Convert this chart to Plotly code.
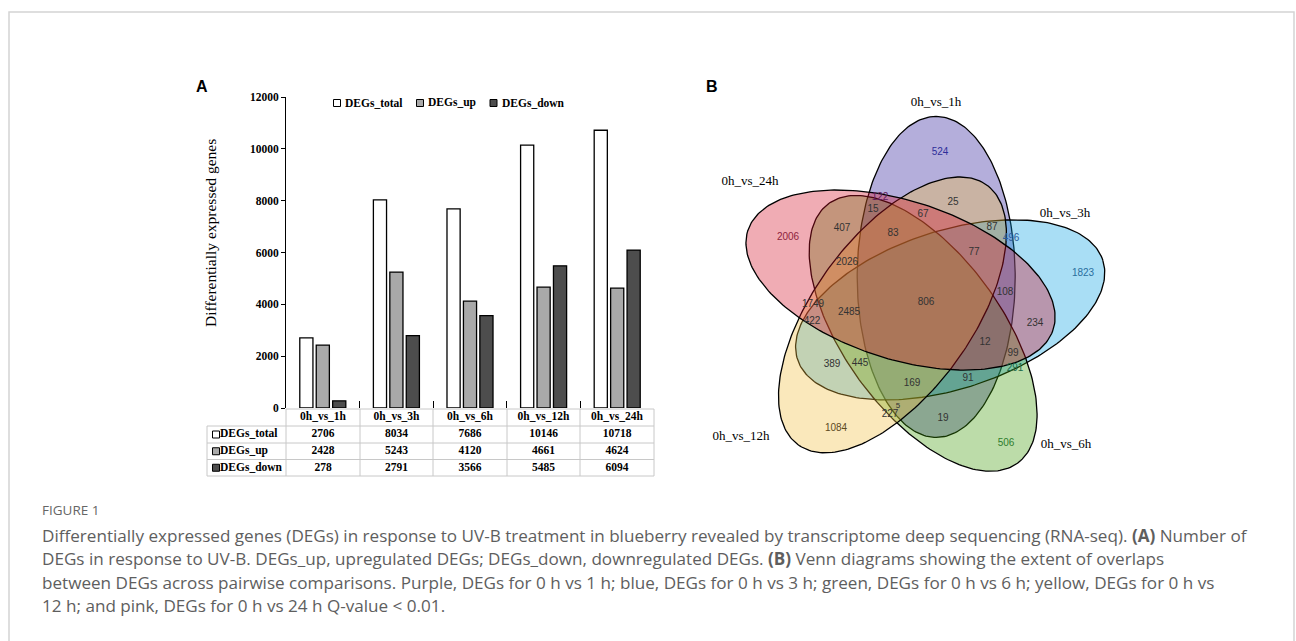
import numpy as np
import plotly.graph_objects as go

# ---------------- data ----------------
comparisons = ["0h_vs_1h", "0h_vs_3h", "0h_vs_6h", "0h_vs_12h", "0h_vs_24h"]
series_names = ["DEGs_total", "DEGs_up", "DEGs_down"]
degs_total = [2706, 8034, 7686, 10146, 10718]
degs_up = [2428, 5243, 4120, 4661, 4624]
degs_down = [278, 2791, 3566, 5485, 6094]
y_ticks = [0, 2000, 4000, 6000, 8000, 10000, 12000]

venn_sets = ["0h_vs_1h", "0h_vs_3h", "0h_vs_6h", "0h_vs_12h", "0h_vs_24h"]
venn_counts = [524, 1823, 506, 1084, 2006, 25, 122, 15, 67, 407, 83, 87, 496,
               77, 2026, 108, 806, 1749, 2485, 422, 234, 12, 99, 291, 389,
               445, 91, 169, 5, 227, 19]

# ---------------- layout helpers (page pixels -> paper) ----------------
OX, OY, W, H = 0, 0, 1296, 641
def px(x):
    return (x - OX) / W
def py(y):
    return 1 - (y - OY) / H

SERIF = "Liberation Serif"
SANS = "Liberation Sans"

bar_fill = ["#ffffff", "#a9a9a9", "#4d4d4d"]

fig = go.Figure()

# ---------------- Panel A: bars ----------------
for name, vals, col in zip(series_names, [degs_total, degs_up, degs_down], bar_fill):
    fig.add_trace(go.Bar(x=comparisons, y=vals, name=name,
                         marker=dict(color=col, line=dict(color="black", width=1.3)),
                         showlegend=False, xaxis="x", yaxis="y"))

shapes = []
annotations = []

# ---- data table under the bars (pixel axes x2/y2) ----
col_edges = [207, 286, 360, 433, 507, 580, 654]
row_edges = [409, 426, 443, 459.5, 476]
grid = "#c8c8c8"
shapes.append(dict(type="line", xref="x2", yref="y2", x0=col_edges[1], x1=col_edges[-1],
                   y0=row_edges[0], y1=row_edges[0], line=dict(color=grid, width=1)))
for yb in row_edges[1:]:
    shapes.append(dict(type="line", xref="x2", yref="y2", x0=col_edges[0], x1=col_edges[-1],
                       y0=yb, y1=yb, line=dict(color=grid, width=1)))
shapes.append(dict(type="line", xref="x2", yref="y2", x0=col_edges[0], x1=col_edges[0],
                   y0=row_edges[1], y1=row_edges[-1], line=dict(color=grid, width=1)))
for xb in col_edges[1:]:
    shapes.append(dict(type="line", xref="x2", yref="y2", x0=xb, x1=xb,
                       y0=row_edges[0], y1=row_edges[-1], line=dict(color=grid, width=1)))

col_centers = [(col_edges[i] + col_edges[i + 1]) / 2 for i in range(1, len(col_edges) - 1)]
row_centers = [(row_edges[i] + row_edges[i + 1]) / 2 for i in range(len(row_edges) - 1)]
# header
fig.add_trace(go.Scatter(x=col_centers, y=[row_centers[0]] * len(comparisons), mode="text",
                         text=["<b>%s</b>" % c for c in comparisons],
                         textfont=dict(family=SERIF, size=11.5, color="black"),
                         showlegend=False, hoverinfo="skip", xaxis="x2", yaxis="y2"))
# values
for r, vals in enumerate([degs_total, degs_up, degs_down]):
    fig.add_trace(go.Scatter(x=col_centers, y=[row_centers[r + 1]] * len(vals), mode="text",
                             text=["<b>%d</b>" % v for v in vals],
                             textfont=dict(family=SERIF, size=11.5, color="black"),
                             showlegend=False, hoverinfo="skip", xaxis="x2", yaxis="y2"))
# row labels with key squares
fig.add_trace(go.Scatter(x=[220] * 3, y=row_centers[1:], mode="text",
                         text=["<b>%s</b>" % s for s in series_names], textposition="middle right",
                         textfont=dict(family=SERIF, size=11.5, color="black"),
                         showlegend=False, hoverinfo="skip", xaxis="x2", yaxis="y2"))
for i, col in enumerate(bar_fill):
    yc = row_centers[i + 1]
    shapes.append(dict(type="rect", xref="x2", yref="y2", x0=212.5, x1=219.5, y0=yc - 3.5, y1=yc + 3.5,
                       fillcolor=col, line=dict(color="black", width=1)))

# legend
legend_x = [333.5, 416.5, 490]
for name, col, lx in zip(series_names, bar_fill, legend_x):
    shapes.append(dict(type="rect", xref="x2", yref="y2", x0=lx, x1=lx + 7, y0=99.5, y1=106.5,
                       fillcolor=col, line=dict(color="black", width=1)))
    annotations.append(dict(x=px(lx + 9.5), y=py(103), xref="paper", yref="paper", text="<b>%s</b>" % name,
                            showarrow=False, xanchor="left", yanchor="middle",
                            font=dict(family=SERIF, size=11.5, color="black")))

annotations.append(dict(x=px(211), y=py(233), xref="paper", yref="paper", text="Differentially expressed genes",
                        textangle=-90, showarrow=False, xanchor="center", yanchor="middle",
                        font=dict(family=SERIF, size=15.5, color="black")))
annotations.append(dict(x=px(202), y=py(87), xref="paper", yref="paper", text="<b>A</b>", showarrow=False,
                        xanchor="center", yanchor="middle", font=dict(family=SANS, size=16, color="black")))
annotations.append(dict(x=px(712), y=py(87), xref="paper", yref="paper", text="<b>B</b>", showarrow=False,
                        xanchor="center", yanchor="middle", font=dict(family=SANS, size=16, color="black")))

# ---------------- Panel B: Venn ----------------
C = np.array([920.5, 303.0])
v0 = np.array([15.7, -26.1])
A_ax, B_ax = 160.5, 79.0
set_angles = [0, 72, 144, -144, -72]
set_fill = ["rgba(40,24,152,0.35)", "rgba(10,160,227,0.35)", "rgba(62,155,10,0.35)",
            "rgba(241,189,60,0.35)", "rgba(212,18,40,0.35)"]
t = np.linspace(0, 2 * np.pi, 241)
for name, ang, fc in zip(venn_sets, set_angles, set_fill):
    a = np.deg2rad(ang)
    R = np.array([[np.cos(a), -np.sin(a)], [np.sin(a), np.cos(a)]])
    cen = C + R @ v0
    u = R @ np.array([0.0, -1.0])
    w = R @ np.array([1.0, 0.0])
    xs = cen[0] + A_ax * np.cos(t) * u[0] + B_ax * np.sin(t) * w[0]
    ys = cen[1] + A_ax * np.cos(t) * u[1] + B_ax * np.sin(t) * w[1]
    fig.add_trace(go.Scatter(x=xs, y=ys, mode="lines", fill="toself", fillcolor=fc,
                             line=dict(color="black", width=1.3), name=name, showlegend=False,
                             hoverinfo="skip", xaxis="x2", yaxis="y2"))

count_pos = [(940, 152), (1083, 273), (1006, 443), (836, 428), (788, 237), (953, 202), (880, 197), (873, 209),
             (923, 214), (842, 228), (893, 233), (992, 227), (1011, 238), (974, 252), (847, 262), (1005, 292),
             (926, 302), (813, 304), (849, 312), (812, 321), (1035, 323), (985, 342), (1013, 353), (1015, 368),
             (832, 364), (860, 363), (968, 378), (912, 383), (898, 406), (890, 414), (943, 418)]
count_col = ["#2e2e9a", "#2a6e9e", "#2e7d2e", "#5c4a1e", "#8e1f3c"] + ["#333333"] * 26
count_col[6] = "#5e1a5a"
count_col[12] = "#2a5a9a"
count_col[23] = "#1a6a4a"
count_size = [10] * len(venn_counts)
count_size[28] = 8
fig.add_trace(go.Scatter(x=[p[0] for p in count_pos], y=[p[1] for p in count_pos], mode="text",
                         text=[str(c) for c in venn_counts],
                         textfont=dict(family=SANS, size=count_size, color=count_col),
                         showlegend=False, hoverinfo="skip", xaxis="x2", yaxis="y2"))
label_pos = [(936, 103), (1065, 214), (1066, 445), (741, 437), (750, 182)]
fig.add_trace(go.Scatter(x=[p[0] for p in label_pos], y=[p[1] for p in label_pos], mode="text",
                         text=venn_sets, textfont=dict(family=SERIF, size=13, color="black"),
                         showlegend=False, hoverinfo="skip", xaxis="x2", yaxis="y2"))

# ---------------- caption ----------------
annotations.append(dict(x=px(40), y=py(510), xref="paper", yref="paper", text="FIGURE 1", showarrow=False,
                        xanchor="left", yanchor="middle", font=dict(family="Open Sans", size=13.5, color="#666666")))
caption_lines = [
    "Differentially expressed genes (DEGs) in response to UV-B treatment in blueberry revealed by transcriptome deep sequencing (RNA-seq). <b>(A)</b> Number of",
    "DEGs in response to UV-B. DEGs_up, upregulated DEGs; DEGs_down, downregulated DEGs. <b>(B)</b> Venn diagrams showing the extent of overlaps",
    "between DEGs across pairwise comparisons. Purple, DEGs for 0 h vs 1 h; blue, DEGs for 0 h vs 3 h; green, DEGs for 0 h vs 6 h; yellow, DEGs for 0 h vs",
    "12 h; and pink, DEGs for 0 h vs 24 h Q-value &lt; 0.01.",
]
for i, line in enumerate(caption_lines):
    annotations.append(dict(x=px(40), y=py(535 + 23.5 * i), xref="paper", yref="paper", text=line, showarrow=False,
                            xanchor="left", yanchor="middle", font=dict(family="Open Sans", size=17.1, color="#5e5e5e")))

# frame
shapes.append(dict(type="path", xref="x2", yref="y2",
                   path="M 9 700 L 9 12 L 1294 12 L 1294 700",
                   line=dict(color="#d4d4d4", width=1.5)))

fig.update_layout(
    width=W, height=H, margin=dict(l=0, r=0, t=0, b=0, autoexpand=False),
    paper_bgcolor="white", plot_bgcolor="rgba(0,0,0,0)",
    barmode="group", bargap=0.33, bargroupgap=0.2,
    xaxis=dict(domain=[px(286), px(654)], type="category", showticklabels=False, ticks="inside", ticklen=7,
               tickcolor="black", tickson="boundaries", showgrid=False, zeroline=False, showline=False,
               anchor="y", automargin=False),
    yaxis=dict(domain=[py(408), py(97)], range=[0, 12000], tickvals=y_ticks, ticktext=[str(v) for v in y_ticks],
               ticks="outside", ticklen=4,
               tickcolor="black", showline=True, linecolor="black", linewidth=1, showgrid=False, zeroline=False,
               tickfont=dict(family=SERIF, size=11.5, color="black", weight="bold"), anchor="x", automargin=False),
    xaxis2=dict(domain=[0, 1], range=[OX, OX + W], visible=False, anchor="y2", fixedrange=True, automargin=False),
    yaxis2=dict(domain=[0, 1], range=[OY + H, OY], visible=False, anchor="x2", fixedrange=True, automargin=False),
    shapes=shapes, annotations=annotations,
)

pin_page = ("var gd=document.getElementById('{plot_id}');"
            "document.documentElement.style.overflow='hidden';"
            "document.body.style.margin='0';document.body.style.overflow='hidden';"
            "gd.style.position='fixed';gd.style.left='0px';gd.style.top='0px';")
fig.write_html("out.html", post_script=pin_page, config={"displayModeBar": False})
